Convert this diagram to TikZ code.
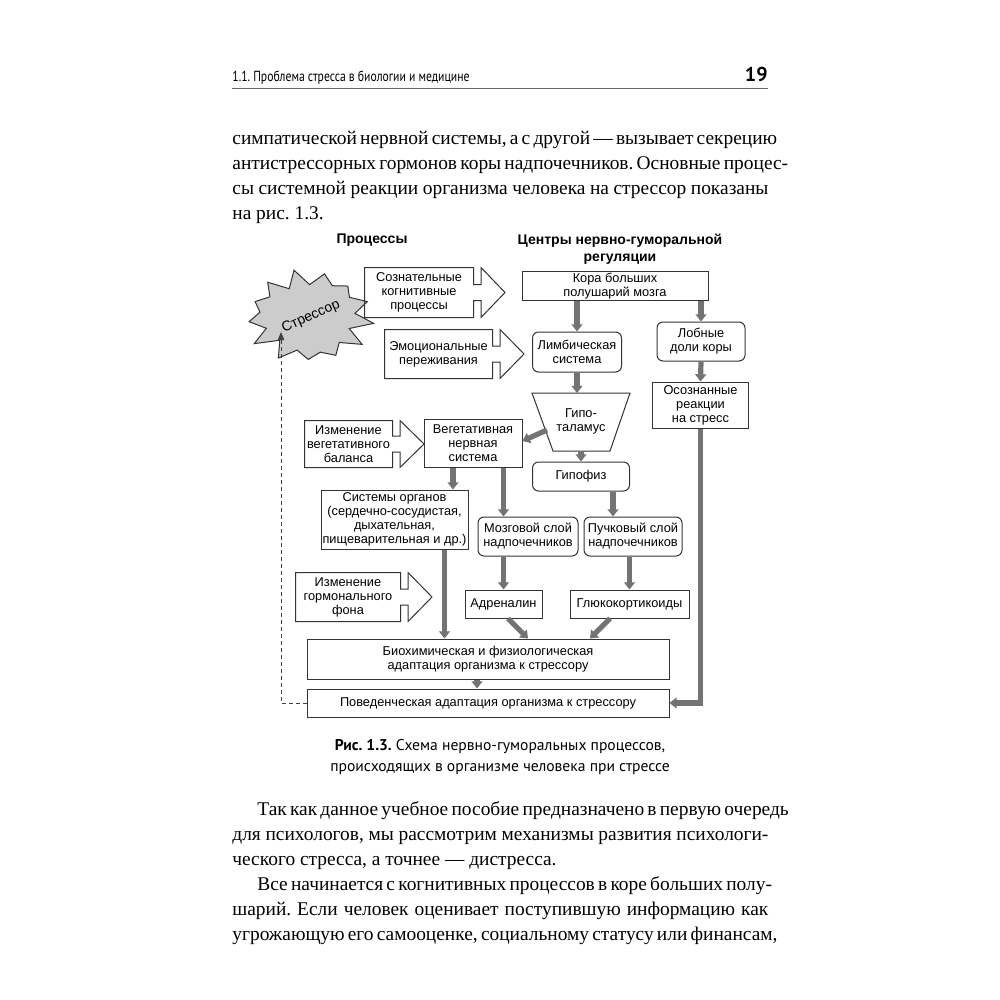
\documentclass[tikz,border=0pt]{standalone}
\usepackage{fontspec}
\setmainfont{Liberation Serif}
\newfontfamily\diagfont{Liberation Sans}
\newfontfamily\capfont{PT Sans}
\newfontfamily\headfont[FakeStretch=0.8]{PT Sans}
\usetikzlibrary{arrows.meta}
\frenchspacing

% строка с выключкой по формату
\newcommand\jline[2]{\makebox[#1][s]{#2}}
% контур «процесса» со стрелкой вправо
\newcommand\procarrow[1]{%
  \draw[boxline] (#1.north west) -- (#1.north east) -- ([yshift=4pt]#1.east)
    -- ([xshift=3.75pt,yshift=4pt]#1.east) -- ([xshift=3.75pt]#1.north east)
    -- ([xshift=15.75pt]#1.east) -- ([xshift=3.75pt]#1.south east)
    -- ([xshift=3.75pt,yshift=-4pt]#1.east) -- ([yshift=-4pt]#1.east)
    -- (#1.south east) -- (#1.south west) -- cycle;}

\tikzset{
  boxline/.style={draw=black!80, line width=0.5pt},
  box/.style={boxline, fill=white, rectangle, align=center, inner sep=0.5pt,
    font=\diagfont\fontsize{6.4}{7}\selectfont},
  rbox/.style={box, rounded corners=3pt},
  proc/.style={box, draw=none, fill=none},
  flow/.style={draw=black!55, line width=2.6pt, -{Triangle[width=5.4pt,length=3.6pt]}},
  feedback/.style={draw=black!75, line width=0.5pt, dash pattern=on 2pt off 1.5pt,
    -{Triangle[width=3.2pt,length=4pt]}},
  title/.style={font=\diagfont\bfseries\fontsize{7}{8.5}\selectfont, align=center},
  bodyline/.style={anchor=base west, inner sep=0pt, font=\fontsize{9.7}{12}\selectfont},
}

\begin{document}
\begin{tikzpicture}[x=0.5pt, y=-0.5pt]
  \fill[white] (0,0) rectangle (1000,1000);
  \useasboundingbox (0,0) rectangle (1000,1000);

  % 1. Колонтитул
  \node[anchor=base west, inner sep=0pt, font=\headfont\fontsize{7.3}{9}\selectfont] (runhead) at (232,82) {1.1. Проблема стресса в биологии и медицине};
  \node[anchor=base east, inner sep=0pt, font=\capfont\bfseries\fontsize{10}{12}\selectfont] (folio) at (768,82) {19};
  \draw[black!60, line width=0.5pt] (232,89) -- (768,89);

  % 2. Текст над рисунком
  \node[bodyline] (ta) at (232,145) {\jline{268pt}{симпатической нервной системы, а с другой — вызывает секрецию}};
  \node[bodyline] (tb) at (232,170) {\jline{268pt}{антистрессорных гормонов коры надпочечников. Основные процес-}};
  \node[bodyline] (tc) at (232,195) {\jline{268pt}{сы системной реакции организма человека на стрессор показаны}};
  \node[bodyline] (td) at (232,220) {на рис. 1.3.};

  % 3. Заголовки колонок
  \node[title] (ttlproc) at (372,240) {Процессы};
  \node[title] (ttlcent) at (620,249) {Центры нервно-гуморальной\\регуляции};

  % 4. Стрессор
  \draw[boxline, fill=black!20] ({309+62*cos(20)},{317-45*sin(20)})
    \foreach \i in {1,...,25}{ -- ({309+62*(isodd(\i)?0.75:1)*(1+0.07*sin(137*\i))*cos(360/26*\i+20)},{317-45*(isodd(\i)?0.75:1)*(1+0.07*sin(137*\i))*sin(360/26*\i+20)}) } -- cycle;
  \node[font=\diagfont\fontsize{7}{9}\selectfont, rotate=24] (stressor) at (311,317) {Стрессор};

  % 5. Процессы (левая колонка)
  \node[proc, minimum width=54pt, minimum height=24.5pt] (cogn) at (419,292.5) {Сознательные\\когнитивные\\процессы};
  \procarrow{cogn}
  \node[proc, minimum width=53.5pt, minimum height=24pt] (emo) at (438.5,354) {Эмоциональные\\переживания};
  \procarrow{emo}
  \node[proc, minimum width=43.5pt, minimum height=23pt] (vegbal) at (348.5,444) {Изменение\\вегетативного\\баланса};
  \procarrow{vegbal}
  \node[proc, minimum width=52pt, minimum height=24pt] (hormon) at (348,597) {Изменение\\гормонального\\фона};
  \procarrow{hormon}

  % 6. Центры регуляции
  \node[box, minimum width=93pt, minimum height=14pt] (kora) at (615,286) {Кора больших\\полушарий мозга};
  \node[rbox, minimum width=44.5pt, minimum height=20pt] (limb) at (577,352) {Лимбическая\\система};
  \node[rbox, minimum width=44pt, minimum height=19.5pt] (front) at (701,341.5) {Лобные\\доли коры};
  \node[box, minimum width=48pt, minimum height=23pt] (aware) at (700.5,405) {Осознанные\\реакции\\на стресс};
  \draw[boxline, fill=white] (532,393) -- (630,393) -- (610,451) -- (553,451) -- cycle;
  \node[proc] (hypo) at (581,421) {Гипо-\\таламус};
  \coordinate (hypotop) at (581,393);
  \coordinate (hypobot) at (581,451);
  \coordinate (hypoleft) at (547,430);
  \node[rbox, minimum width=48.5pt, minimum height=14.5pt] (pit) at (581,476.5) {Гипофиз};
  \node[box, minimum width=49pt, minimum height=24pt] (veg) at (473,443) {Вегетативная\\нервная\\система};
  \node[box, minimum width=73.5pt, minimum height=29.5pt] (organs) at (394.5,519.5) {Системы органов\\(сердечно-сосудистая,\\дыхательная,\\пищеварительная и др.)};
  \node[rbox, minimum width=50pt, minimum height=19.5pt] (medulla) at (528,536.5) {Мозговой слой\\надпочечников};
  \node[rbox, minimum width=49pt, minimum height=19.5pt] (fasc) at (633,536.5) {Пучковый слой\\надпочечников};
  \node[box, minimum width=38.5pt, minimum height=14pt] (adr) at (503.5,604) {Адреналин};
  \node[box, minimum width=59.5pt, minimum height=14pt] (gluco) at (629.5,604) {Глюкокортикоиды};
  \node[box, minimum width=181pt, minimum height=20pt] (bio) at (488,659) {Биохимическая и физиологическая\\адаптация организма к стрессору};
  \node[box, minimum width=181pt, minimum height=14pt] (beh) at (488,703) {Поведенческая адаптация организма к стрессору};

  % 7. Связи
  \draw[flow] (kora.south -| limb) -- (limb.north);
  \draw[flow] (kora.south -| front) -- (front.north);
  \draw[flow] (front.south) -- (aware.north);
  \draw[flow] (limb.south) -- (limb.south |- hypotop);
  \draw[flow] (hypobot) -- (pit.north);
  \draw[flow] (hypoleft) -- ([yshift=1pt]veg.east);
  \draw[flow] ([xshift=-10pt]veg.south) -- ([xshift=-10pt]veg.south |- organs.north);
  \draw[flow] (veg.south -| adr) -- (medulla.north -| adr);
  \draw[flow] ([xshift=16pt]pit.south) -- ([xshift=16pt]pit.south |- fasc.north);
  \draw[flow] (medulla.south -| adr) -- (adr.north);
  \draw[flow] (fasc.south -| gluco) -- (gluco.north);
  \draw[flow] ([xshift=25pt]organs.south) -- ([xshift=25pt]organs.south |- bio.north);
  \draw[flow] ([xshift=2.25pt]adr.south) -- ([xshift=20pt]bio.north);
  \draw[flow] ([xshift=-9.75pt]gluco.south) -- ([xshift=51pt]bio.north);
  \draw[flow] ([xshift=-5.5pt]bio.south) -- ([xshift=-5.5pt]beh.north);
  \draw[flow] (aware.south) |- (beh.east);

  % 8. Обратная связь
  \coordinate (fbtip) at (281,332);
  \draw[feedback] (beh.west) -| (fbtip);

  % 9. Подпись
  \node[font=\capfont\fontsize{7.8}{10.5}\selectfont, align=center] (caption) at (500,757) {\textbf{Рис. 1.3.} Схема нервно-гуморальных процессов,\\происходящих в организме человека при стрессе};

  % 10. Текст под рисунком
  \node[bodyline] (tf) at (257,815) {\jline{255.5pt}{Так как данное учебное пособие предназначено в первую очередь}};
  \node[bodyline] (tg) at (232,840) {\jline{268pt}{для психологов, мы рассмотрим механизмы развития психологи-}};
  \node[bodyline] (th) at (232,865) {ческого стресса, а точнее — дистресса.};
  \node[bodyline] (ti) at (257,890) {\jline{255.5pt}{Все начинается с когнитивных процессов в коре больших полу-}};
  \node[bodyline] (tj) at (232,915) {\jline{268pt}{шарий. Если человек оценивает поступившую информацию как}};
  \node[bodyline] (tk) at (232,940) {\jline{268pt}{угрожающую его самооценке, социальному статусу или финансам,}};
\end{tikzpicture}
\end{document}
